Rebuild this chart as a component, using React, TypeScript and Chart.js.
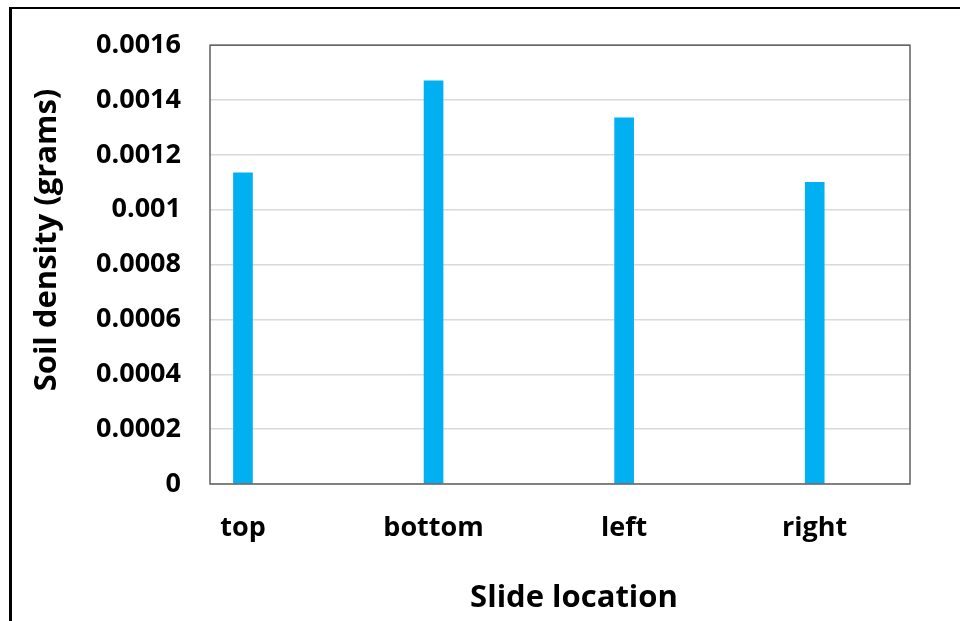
import React, { useEffect, useRef } from "react";
import { Chart, registerables } from "chart.js";

Chart.register(...registerables);

const categories = ["top", "bottom", "left", "right"];
const densityValues = [0.001135, 0.00147, 0.001335, 0.0011];
const yTickValues = [0, 0.0002, 0.0004, 0.0006, 0.0008, 0.001, 0.0012, 0.0014, 0.0016];
const yTickLabels = ["0", "0.0002", "0.0004", "0.0006", "0.0008", "0.001", "0.0012", "0.0014", "0.0016"];
const xAxisTitle = "Slide location";
const yAxisTitle = "Soil density (grams)";

const FONT = "'Open Sans', 'DejaVu Sans', sans-serif";

const decorPlugin = {
  id: "decor",
  beforeDraw(chart: any) {
    const ctx = chart.ctx;
    ctx.save();
    ctx.fillStyle = "#ffffff";
    ctx.fillRect(0, 0, chart.width, chart.height);
    ctx.restore();
  },
  afterDraw(chart: any) {
    const ctx = chart.ctx;
    const a = chart.chartArea;
    ctx.save();
    ctx.strokeStyle = "#5f5f5f";
    ctx.lineWidth = 1.5;
    ctx.strokeRect(a.left, a.top, a.right - a.left, a.bottom - a.top);
    ctx.fillStyle = "#000000";
    ctx.fillRect(9, 7, chart.width - 9, 2);
    ctx.fillRect(9, 7, 3, chart.height - 7);
    ctx.fillStyle = "#000000";
    ctx.font = `bold 31px ${FONT}`;
    ctx.textAlign = "center";
    ctx.textBaseline = "alphabetic";
    ctx.fillText(xAxisTitle, 574, 607);
    ctx.translate(56, 240);
    ctx.rotate(-Math.PI / 2);
    ctx.fillText(yAxisTitle, 0, 0);
    ctx.restore();
  },
};

export default function App() {
  const ref = useRef<HTMLCanvasElement | null>(null);
  useEffect(() => {
    if (!ref.current) return;
    const chart = new Chart(ref.current, {
      type: "bar",
      data: {
        datasets: [
          {
            label: yAxisTitle,
            data: categories.map((_, i) => ({ x: i, y: densityValues[i] })),
            backgroundColor: "#00B0F0",
            borderWidth: 0,
            barThickness: 19,
          },
        ],
      },
      options: {
        responsive: false,
        animation: false,
        devicePixelRatio: 1,
        layout: { padding: { top: 43, right: 50, left: 0, bottom: 0 } },
        plugins: { legend: { display: false }, tooltip: { enabled: false }, title: { display: false } },
        scales: {
          x: {
            type: "linear",
            offset: false,
            min: -0.173,
            max: 3.5,
            afterFit: (s: any) => {
              s.height = 137;
            },
            afterBuildTicks: (s: any) => {
              s.ticks = categories.map((_, i) => ({ value: i }));
            },
            grid: { display: false, drawTicks: false },
            border: { display: false },
            ticks: {
              autoSkip: false,
              maxRotation: 0,
              padding: 28,
              color: "#000000",
              font: { family: FONT, size: 27, weight: "bold" },
              callback: (v: any) => categories[Math.round(Number(v))] ?? "",
            },
          },
          y: {
            min: 0,
            max: 0.0016,
            afterFit: (s: any) => {
              s.width = 210;
            },
            afterBuildTicks: (s: any) => {
              s.ticks = yTickValues.map((v) => ({ value: v }));
            },
            grid: { color: "#d9d9d9", lineWidth: 1.5, drawTicks: false },
            border: { display: false },
            ticks: {
              padding: 29,
              color: "#000000",
              font: { family: FONT, size: 27, weight: "bold" },
              callback: (_v: any, i: number) => yTickLabels[i],
            },
          },
        },
      },
      plugins: [decorPlugin],
    });
    return () => chart.destroy();
  }, []);
  return (
    <div style={{ position: "fixed", left: 0, top: 0, width: 960, height: 621, background: "#fff" }}>
      <canvas ref={ref} width={960} height={621} style={{ display: "block", width: 960, height: 621 }} />
    </div>
  );
}
